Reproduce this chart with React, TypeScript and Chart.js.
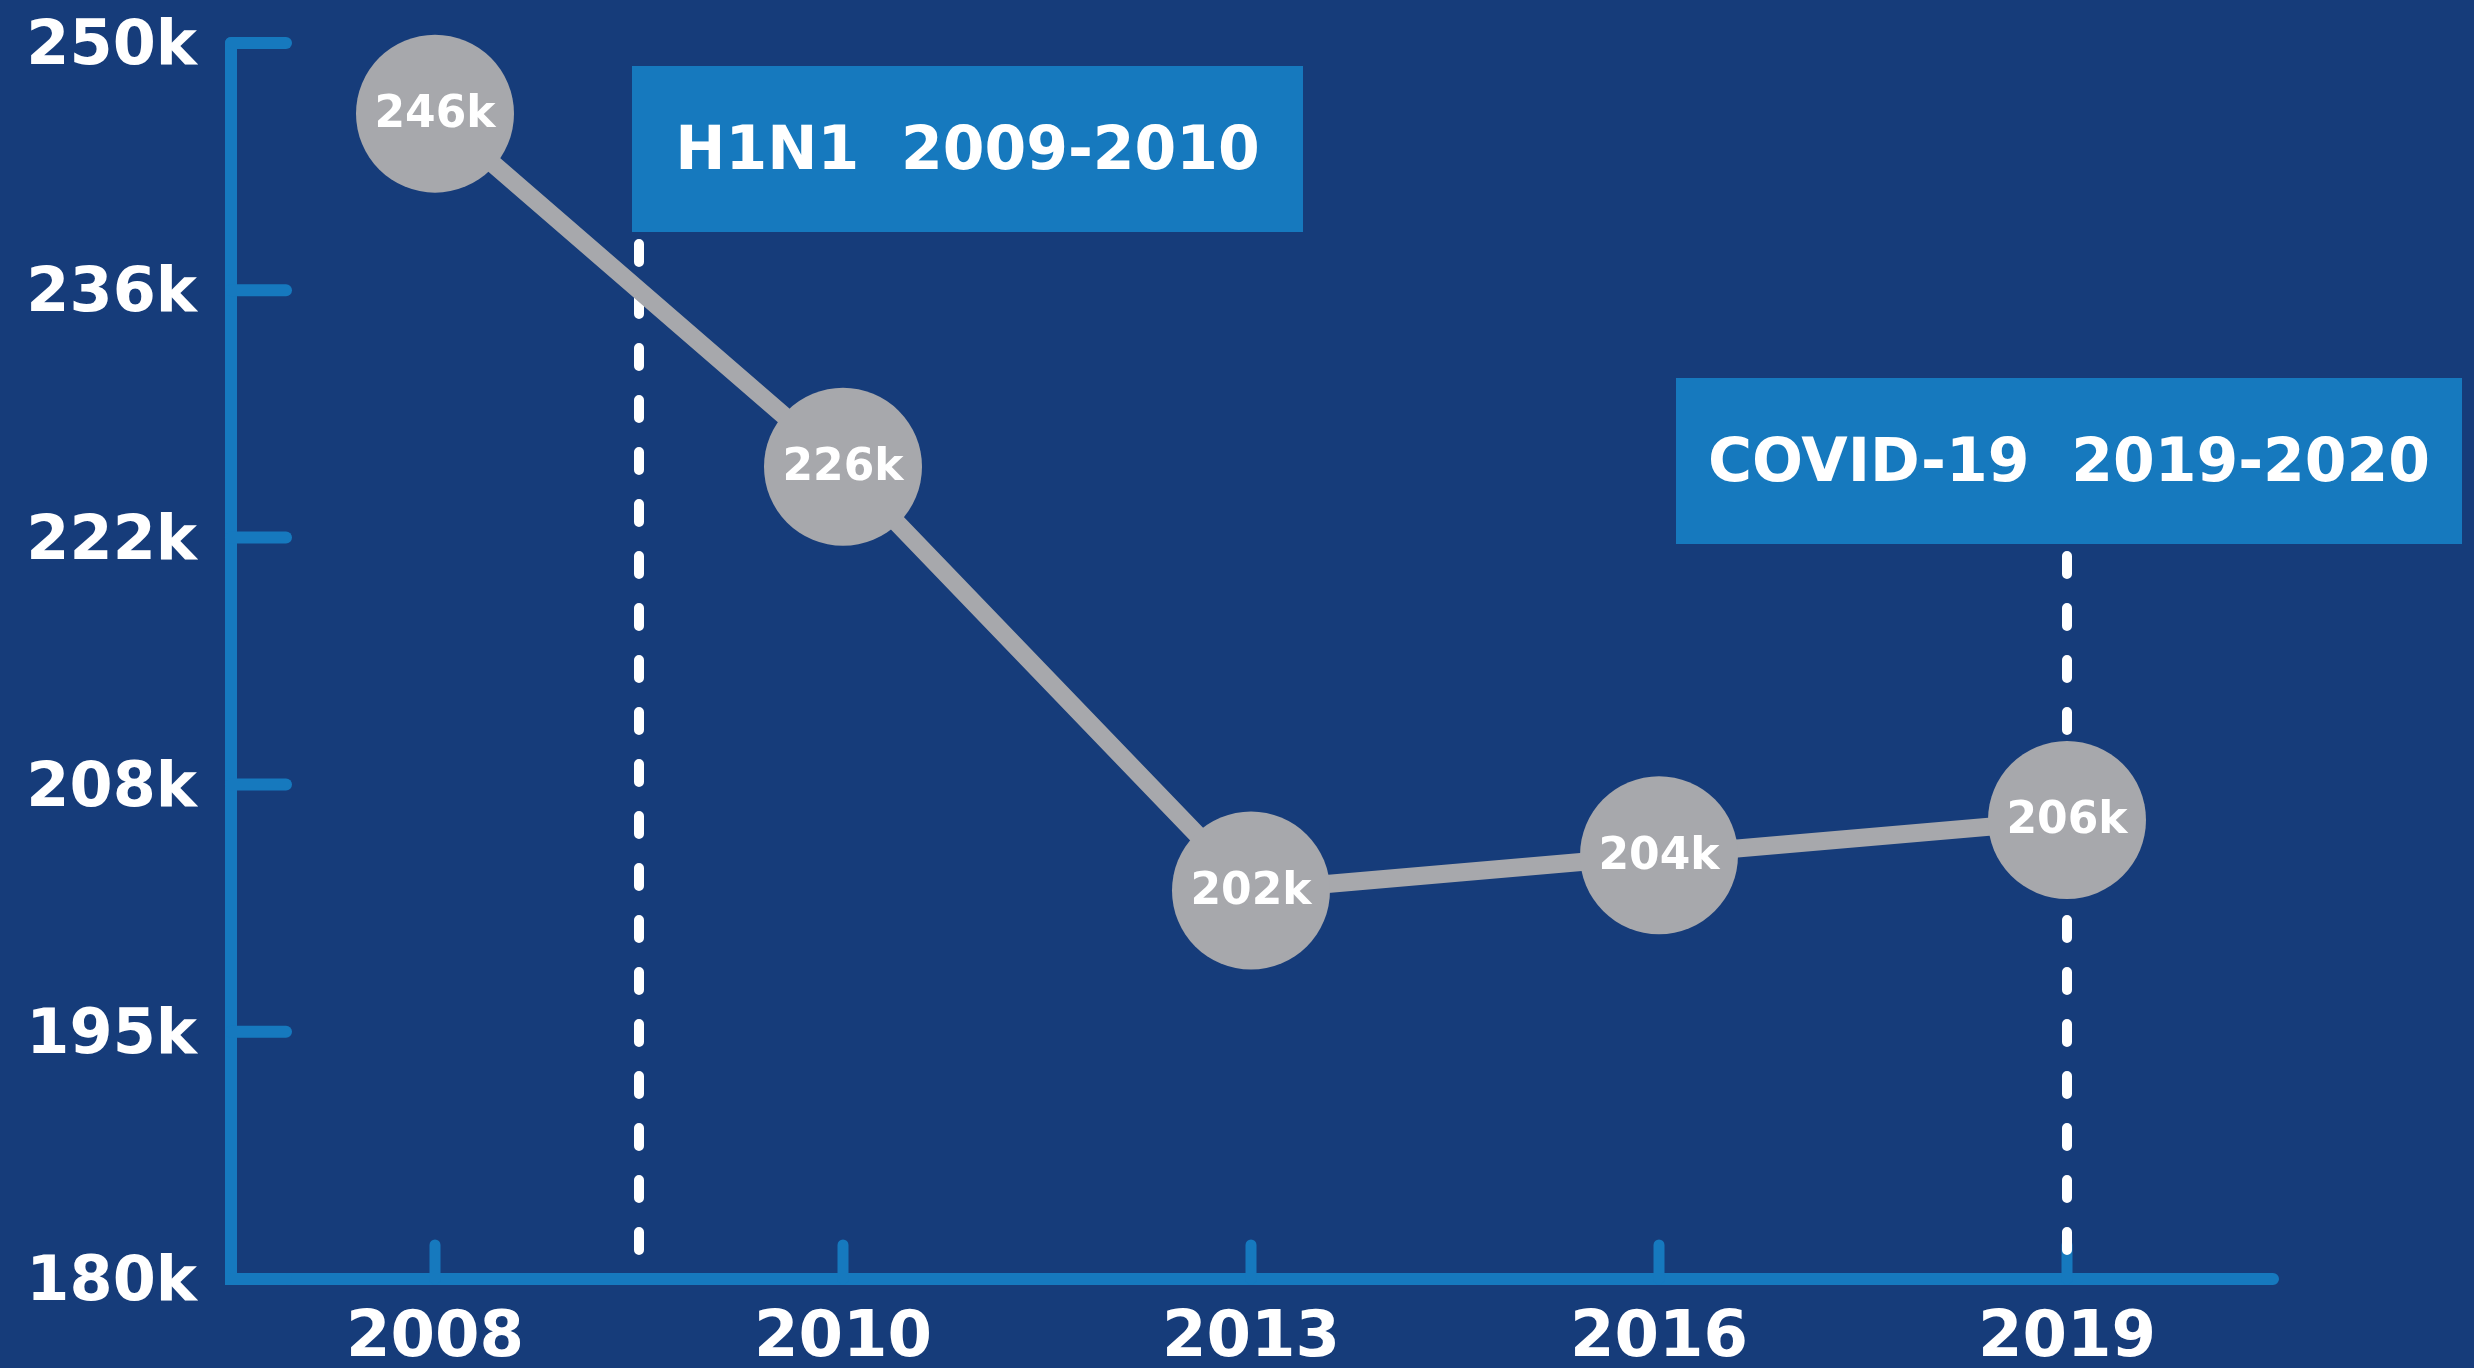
import React, { useEffect, useRef } from "react";
import { Chart, registerables } from "chart.js";

Chart.register(...registerables);

// ---- data ----
const years = ["2008", "2010", "2013", "2016", "2019"];
const values = [246000, 226000, 202000, 204000, 206000];
const yTickLabels = ["180k", "195k", "208k", "222k", "236k", "250k"];
const eventLabels = ["H1N1  2009-2010", "COVID-19  2019-2020"];
const eventPositions = [0.5, 4]; // category index (0.5 = between 2008 and 2010)

// ---- styles ----
const BG = "#163C7A";
const AXIS = "#1679BE";
const GREY = "#A7A8AC";
const FONT = "'DejaVu Sans', sans-serif";

const decorPlugin = {
  id: "decor",
  beforeDatasetsDraw(chart: any) {
    const ctx = chart.ctx;
    const area = chart.chartArea;
    const x = chart.scales.x;
    const y = chart.scales.y;
    ctx.save();
    // axes
    ctx.strokeStyle = AXIS;
    ctx.lineWidth = 12;
    ctx.lineCap = "round";
    ctx.beginPath();
    ctx.moveTo(area.left, area.top);
    ctx.lineTo(area.left, area.bottom);
    ctx.lineTo(area.right + 2, area.bottom);
    ctx.stroke();
    // y ticks (inward)
    y.ticks.forEach((t: any) => {
      const py = y.getPixelForValue(t.value);
      ctx.beginPath();
      ctx.moveTo(area.left, py);
      ctx.lineTo(area.left + 55, py);
      ctx.stroke();
    });
    // x ticks (upward)
    ctx.lineWidth = 11;
    years.forEach((_, i) => {
      const px = x.getPixelForValue(i);
      ctx.beginPath();
      ctx.moveTo(px, area.bottom);
      ctx.lineTo(px, area.bottom - 34);
      ctx.stroke();
    });
    // event boxes and dashed lines
    const boxes = [
      { dx: -7, top: 66, w: 671, h: 166 },
      { dx: -391, top: 378, w: 786, h: 166 },
    ];
    eventPositions.forEach((pos, i) => {
      const lx = x.getPixelForValue(pos);
      const b = boxes[i];
      ctx.strokeStyle = "#FFFFFF";
      ctx.lineWidth = 10;
      ctx.lineCap = "round";
      ctx.setLineDash([18, 34]);
      ctx.beginPath();
      ctx.moveTo(lx, b.top + b.h + 12);
      ctx.lineTo(lx, area.bottom - 8);
      ctx.stroke();
      ctx.setLineDash([]);
      ctx.fillStyle = AXIS;
      ctx.fillRect(lx + b.dx, b.top, b.w, b.h);
      ctx.fillStyle = "#FFFFFF";
      ctx.font = `bold 60px ${FONT}`;
      ctx.textAlign = "center";
      ctx.textBaseline = "middle";
      ctx.fillText(eventLabels[i], lx + b.dx + b.w / 2, b.top + b.h / 2 + 4);
    });
    ctx.restore();
  },
  afterDatasetsDraw(chart: any) {
    const ctx = chart.ctx;
    const meta = chart.getDatasetMeta(0);
    ctx.save();
    ctx.fillStyle = "#FFFFFF";
    ctx.font = `bold 44px ${FONT}`;
    ctx.textAlign = "center";
    ctx.textBaseline = "middle";
    meta.data.forEach((pt: any, i: number) => {
      ctx.fillText(`${Math.round(values[i] / 1000)}k`, pt.x, pt.y + 2);
    });
    ctx.restore();
  },
};

export default function App() {
  const ref = useRef<HTMLCanvasElement>(null);
  useEffect(() => {
    if (!ref.current) return;
    const chart = new Chart(ref.current, {
      type: "line",
      data: {
        labels: years,
        datasets: [
          {
            data: values,
            borderColor: GREY,
            borderWidth: 18,
            backgroundColor: GREY,
            pointBackgroundColor: GREY,
            pointBorderWidth: 0,
            pointRadius: 79,
            pointHoverRadius: 79,
            tension: 0,
            clip: false as any,
          },
        ],
      },
      options: {
        responsive: false,
        animation: false,
        devicePixelRatio: 1,
        events: [],
        layout: { autoPadding: false, padding: { top: 43, right: 203, left: 0, bottom: 0 } },
        plugins: { legend: { display: false }, tooltip: { enabled: false } },
        scales: {
          x: {
            type: "category",
            offset: true,
            grid: { display: false },
            border: { display: false },
            ticks: {
              color: "#FFFFFF",
              font: { family: FONT, weight: "bold", size: 64 },
              padding: 14,
              maxRotation: 0,
            },
            afterFit: (s: any) => {
              s.height = 89;
              s.paddingLeft = 0;
              s.paddingRight = 0;
            },
          },
          y: {
            min: 180000,
            max: 250000,
            grid: { display: false },
            border: { display: false },
            ticks: {
              stepSize: 14000,
              color: "#FFFFFF",
              font: { family: FONT, weight: "bold", size: 62 },
              padding: 26,
              labelOffset: 5,
              callback: (_v: any, i: number) => yTickLabels[i],
            },
            afterFit: (s: any) => {
              s.width = 231;
              s.paddingTop = 0;
              s.paddingBottom = 0;
            },
          },
        },
      },
      plugins: [decorPlugin],
    });
    return () => chart.destroy();
  }, []);
  return (
    <div
      style={{
        position: "fixed",
        left: 0,
        top: 0,
        width: 2474,
        height: 1368,
        background: BG,
      }}
    >
      <canvas ref={ref} width={2474} height={1368} style={{ display: "block" }} />
    </div>
  );
}
